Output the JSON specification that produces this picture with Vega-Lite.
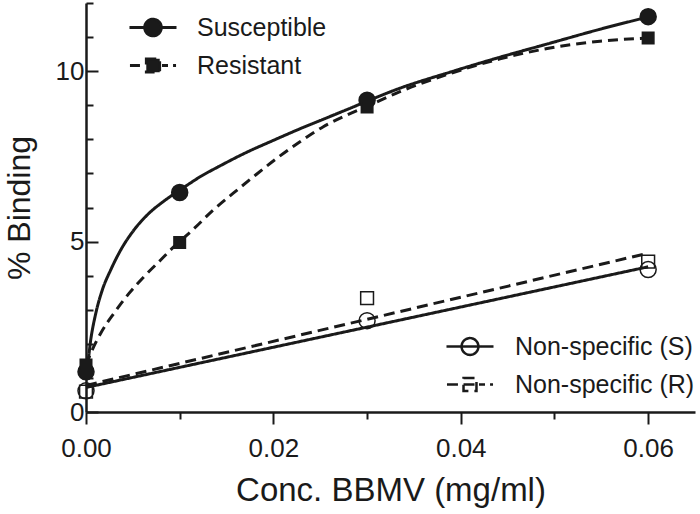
{
  "$schema": "https://vega.github.io/schema/vega-lite/v6.json",
  "width": 609,
  "height": 409,
  "autosize": {"type": "none"},
  "padding": {"left": 86, "top": 3, "right": 5, "bottom": 102},
  "background": "white",
  "config": {"view": {"stroke": null}, "font": "Liberation Sans"},
  "datasets": {
    "specificFits": [
      {"series": "Susceptible", "conc": 0, "binding": 1.18},
      {"series": "Susceptible", "conc": 0.00014, "binding": 1.33},
      {"series": "Susceptible", "conc": 0.0005, "binding": 2.11},
      {"series": "Susceptible", "conc": 0.00104, "binding": 2.89},
      {"series": "Susceptible", "conc": 0.00174, "binding": 3.58},
      {"series": "Susceptible", "conc": 0.00264, "binding": 4.17},
      {"series": "Susceptible", "conc": 0.0037, "binding": 4.75},
      {"series": "Susceptible", "conc": 0.00512, "binding": 5.34},
      {"series": "Susceptible", "conc": 0.00672, "binding": 5.83},
      {"series": "Susceptible", "conc": 0.00833, "binding": 6.19},
      {"series": "Susceptible", "conc": 0.00957, "binding": 6.43},
      {"series": "Susceptible", "conc": 0.01039, "binding": 6.58},
      {"series": "Susceptible", "conc": 0.01217, "binding": 6.9},
      {"series": "Susceptible", "conc": 0.0143, "binding": 7.22},
      {"series": "Susceptible", "conc": 0.01715, "binding": 7.62},
      {"series": "Susceptible", "conc": 0.02, "binding": 7.97},
      {"series": "Susceptible", "conc": 0.02284, "binding": 8.31},
      {"series": "Susceptible", "conc": 0.02569, "binding": 8.63},
      {"series": "Susceptible", "conc": 0.02853, "binding": 8.95},
      {"series": "Susceptible", "conc": 0.03, "binding": 9.12},
      {"series": "Susceptible", "conc": 0.03351, "binding": 9.5},
      {"series": "Susceptible", "conc": 0.03885, "binding": 9.97},
      {"series": "Susceptible", "conc": 0.04419, "binding": 10.41},
      {"series": "Susceptible", "conc": 0.04952, "binding": 10.82},
      {"series": "Susceptible", "conc": 0.05486, "binding": 11.23},
      {"series": "Susceptible", "conc": 0.06, "binding": 11.59},
      {"series": "Resistant", "conc": 0, "binding": 1.38},
      {"series": "Resistant", "conc": 0.0005, "binding": 1.72},
      {"series": "Resistant", "conc": 0.00157, "binding": 2.31},
      {"series": "Resistant", "conc": 0.00299, "binding": 2.9},
      {"series": "Resistant", "conc": 0.00459, "binding": 3.48},
      {"series": "Resistant", "conc": 0.00619, "binding": 3.97},
      {"series": "Resistant", "conc": 0.00797, "binding": 4.46},
      {"series": "Resistant", "conc": 0.00939, "binding": 4.85},
      {"series": "Resistant", "conc": 0.01, "binding": 5.0},
      {"series": "Resistant", "conc": 0.01145, "binding": 5.36},
      {"series": "Resistant", "conc": 0.01359, "binding": 5.93},
      {"series": "Resistant", "conc": 0.01572, "binding": 6.42},
      {"series": "Resistant", "conc": 0.01786, "binding": 6.9},
      {"series": "Resistant", "conc": 0.02035, "binding": 7.44},
      {"series": "Resistant", "conc": 0.02284, "binding": 7.93},
      {"series": "Resistant", "conc": 0.02533, "binding": 8.37},
      {"series": "Resistant", "conc": 0.02783, "binding": 8.71},
      {"series": "Resistant", "conc": 0.03, "binding": 8.97},
      {"series": "Resistant", "conc": 0.03351, "binding": 9.4},
      {"series": "Resistant", "conc": 0.03885, "binding": 9.93},
      {"series": "Resistant", "conc": 0.04419, "binding": 10.36},
      {"series": "Resistant", "conc": 0.04952, "binding": 10.68},
      {"series": "Resistant", "conc": 0.05486, "binding": 10.88},
      {"series": "Resistant", "conc": 0.06, "binding": 10.97}
    ],
    "nonspecificFits": [
      {"series": "Non-specific (S)", "conc": 0, "binding": 0.72},
      {"series": "Non-specific (S)", "conc": 0.06, "binding": 4.26},
      {"series": "Non-specific (R)", "conc": 0, "binding": 0.78},
      {"series": "Non-specific (R)", "conc": 0.06, "binding": 4.66}
    ],
    "points": [
      {"series": "Susceptible", "conc": 0, "binding": 1.18},
      {"series": "Susceptible", "conc": 0.01, "binding": 6.44},
      {"series": "Susceptible", "conc": 0.03, "binding": 9.15},
      {"series": "Susceptible", "conc": 0.06, "binding": 11.6},
      {"series": "Resistant", "conc": 0, "binding": 1.38},
      {"series": "Resistant", "conc": 0.01, "binding": 4.97},
      {"series": "Resistant", "conc": 0.03, "binding": 8.95},
      {"series": "Resistant", "conc": 0.06, "binding": 10.97},
      {"series": "Non-specific (S)", "conc": 0, "binding": 0.62},
      {"series": "Non-specific (S)", "conc": 0.03, "binding": 2.68},
      {"series": "Non-specific (S)", "conc": 0.06, "binding": 4.18},
      {"series": "Non-specific (R)", "conc": 0, "binding": 0.6},
      {"series": "Non-specific (R)", "conc": 0.03, "binding": 3.34},
      {"series": "Non-specific (R)", "conc": 0.06, "binding": 4.41}
    ]
  },
  "encoding": {
    "x": {
      "field": "conc", "type": "quantitative",
      "scale": {"domain": [0, 0.065], "nice": false, "zero": false},
      "axis": {
        "title": "Conc. BBMV (mg/ml)",
        "values": [0, 0.01, 0.02, 0.03, 0.04, 0.05, 0.06],
        "labelExpr": "round(datum.value*100) % 2 === 1 ? '' : format(datum.value, '.2f')",
        "tickSize": {"condition": {"test": "round(datum.value*100) % 2 === 1", "value": 7}, "value": 12},
        "tickWidth": 2, "tickColor": "#1a1a1a",
        "domainWidth": 2.5, "domainColor": "#1a1a1a",
        "labelColor": "#1a1a1a", "labelFontSize": 26, "labelPadding": 11,
        "labelFlush": false, "labelOverlap": false,
        "titleFontSize": 33, "titleFontWeight": "normal", "titleColor": "#1a1a1a", "titlePadding": 13,
        "grid": false
      }
    },
    "y": {
      "field": "binding", "type": "quantitative",
      "scale": {"domain": [0, 12], "nice": false},
      "axis": {
        "title": "% Binding",
        "values": [0, 1, 2, 3, 4, 5, 6, 7, 8, 9, 10, 11, 12],
        "labelExpr": "datum.value % 5 === 0 ? datum.label : ''",
        "tickSize": {"condition": {"test": "datum.value % 5 === 0", "value": -12}, "value": -7},
        "tickWidth": 2, "tickColor": "#1a1a1a",
        "domainWidth": 2.5, "domainColor": "#1a1a1a",
        "labelColor": "#1a1a1a", "labelFontSize": 26, "labelPadding": 14,
        "labelFlush": false, "labelOverlap": false,
        "titleFontSize": 32, "titleFontWeight": "normal", "titleColor": "#1a1a1a", "titlePadding": 19,
        "grid": false
      }
    }
  },
  "layer": [
    {
      "data": {"name": "specificFits"},
      "mark": {"type": "line", "interpolate": "monotone", "strokeWidth": 3, "color": "#1a1a1a"},
      "encoding": {
        "strokeDash": {
          "field": "series", "type": "nominal",
          "scale": {"domain": ["Susceptible", "Resistant"], "range": [[1, 0], [10, 6]]},
          "legend": {
            "title": null, "orient": "none", "legendX": 53.5, "legendY": 11,
            "symbolSize": 576, "symbolStrokeWidth": 2.8, "symbolStrokeColor": "#1a1a1a",
            "labelFontSize": 25, "labelColor": "#1a1a1a", "labelOffset": 30.5, "labelLimit": 0,
            "rowPadding": 10,
            "encode": {"symbols": {"update": {
              "shape": {"signal": "datum.value === 'Susceptible' ? 'M-1.96,0H1.96M0.7,0A0.7,0.7,0,1,1,-0.7,0A0.7,0.7,0,1,1,0.7,0Z' : 'M-1.92,0H-0.67M0.75,0H1.25M1.67,0H1.92M-0.56,-0.56H0.56V0.56H-0.56Z'"},
              "fill": {"value": "#1a1a1a"},
              "stroke": {"value": "#1a1a1a"},
              "strokeDash": {"value": [1, 0]},
              "size": {"value": 576}
            }}}
          }
        }
      }
    },
    {
      "data": {"name": "nonspecificFits"},
      "mark": {"type": "line", "strokeWidth": 3, "color": "#1a1a1a"},
      "encoding": {
        "strokeDash": {
          "field": "series", "type": "nominal",
          "scale": {"domain": ["Non-specific (S)", "Non-specific (R)"], "range": [[1, 0], [11, 6]]},
          "legend": {
            "title": null, "orient": "none", "legendX": 370.5, "legendY": 330,
            "symbolSize": 576, "symbolStrokeWidth": 2.5, "symbolStrokeColor": "#1a1a1a",
            "labelFontSize": 25, "labelColor": "#1a1a1a", "labelOffset": 31.5, "labelLimit": 0,
            "rowPadding": 11,
            "encode": {"symbols": {"update": {
              "shape": {"signal": "datum.value === 'Non-specific (S)' ? 'M-1.96,0H1.96M0.7,0A0.7,0.7,0,1,1,-0.7,0A0.7,0.7,0,1,1,0.7,0Z' : 'M-1.92,0H-0.67M-0.54,0H0.54M0.75,0H1.25M1.67,0H1.92M-0.54,-0.54H0.54V0.54H-0.54Z'"},
              "fill": {"value": "transparent"},
              "stroke": {"value": "#1a1a1a"},
              "strokeDash": {"value": [1, 0]},
              "size": {"value": 576}
            }}}
          }
        }
      }
    },
    {
      "data": {"name": "points"},
      "mark": {"type": "point", "filled": false, "strokeWidth": 1.5, "opacity": 1, "size": 256},
      "encoding": {
        "shape": {
          "field": "series", "type": "nominal",
          "scale": {"domain": ["Susceptible", "Resistant", "Non-specific (S)", "Non-specific (R)"],
                    "range": ["circle", "M-0.72,-0.72H0.72V0.72H-0.72Z", "circle", "M-0.8,-0.8H0.8V0.8H-0.8Z"]},
          "legend": null
        },
        "fill": {
          "field": "series", "type": "nominal",
          "scale": {"domain": ["Susceptible", "Resistant", "Non-specific (S)", "Non-specific (R)"],
                    "range": ["#1a1a1a", "#1a1a1a", "transparent", "transparent"]},
          "legend": null
        },
        "stroke": {"value": "#1a1a1a"}
      }
    }
  ],
  "resolve": {"scale": {"strokeDash": "independent"}, "legend": {"strokeDash": "independent"}}
}
